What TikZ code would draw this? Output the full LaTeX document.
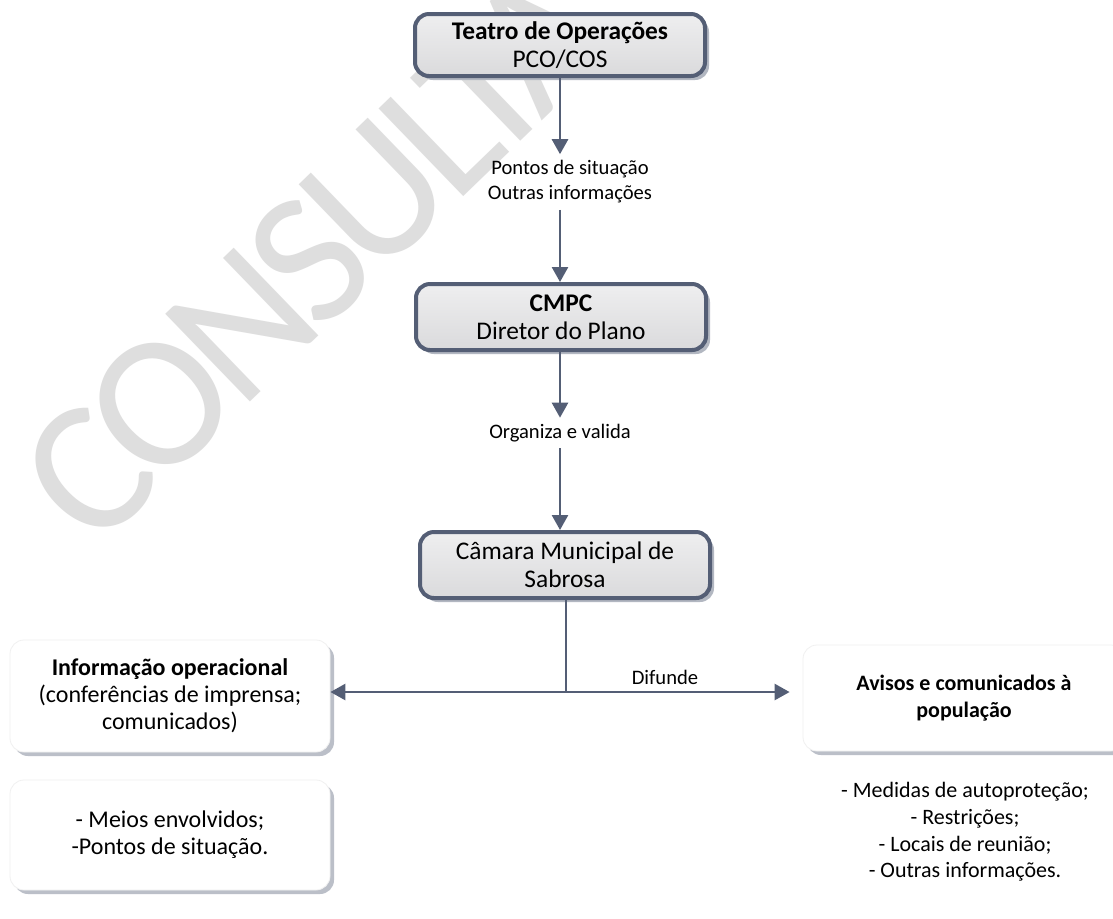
\documentclass[tikz,border=0pt]{standalone}
\usepackage{fontspec}
\setmainfont{Carlito}
\newfontfamily\wmfont[LetterSpace=-6]{Carlito}
\usepackage{tikz}
\usetikzlibrary{positioning,calc,shadows,arrows.meta}
\definecolor{slate}{RGB}{84,94,117}
\definecolor{boxgray}{RGB}{218,218,220}
\definecolor{wmark}{RGB}{222,222,222}
\tikzset{block/.style={draw=slate,line width=2pt,rounded corners=7pt,top color=boxgray!45,bottom color=boxgray,
           minimum width=145pt,minimum height=31pt,align=center,font=\fontsize{12.7}{14}\selectfont,
           drop shadow={shadow xshift=2pt,shadow yshift=-2pt,fill=slate!45,opacity=1}},
         note/.style={draw=gray!12,fill=white,rounded corners=7pt,minimum width=160pt,minimum height=55pt,align=center,
           font=\fontsize{12}{13.5}\selectfont,
           drop shadow={shadow xshift=2pt,shadow yshift=-2pt,fill=slate!40,opacity=1}},
         line/.style={draw=slate,line width=1.3pt,-{Triangle[width=8pt,length=7.5pt]}},
         lbl/.style={font=\fontsize{10.3}{12.5}\selectfont,align=center,inner sep=3pt}
}

\begin{document}
\begin{tikzpicture}[x=0.5pt,y=-0.5pt]
  \useasboundingbox[fill=white] (0,0) rectangle (1113,918);
  % watermark
  \node[rotate=44,text=wmark,font=\wmfont\fontsize{95}{95}\selectfont] (wm) at (315,255) {CONSULTA};

  \node[block] (teatro) at (560,45) {\textbf{Teatro de Operações}\\PCO/COS};
  \node[lbl] (sit) at (570,182) {Pontos de situação\\Outras informações};
  \node[block,minimum height=33pt] (cmpc) at (561,317) {\textbf{CMPC}\\Diretor do Plano};
  \node[lbl] (valida) at (560,433) {Organiza e valida};
  \node[block,minimum height=33pt] (camara) at (565,565) {Câmara Municipal de\\Sabrosa};

  \node[note,minimum height=56pt] (info) at (170,696) {\textbf{Informação operacional}\\(conferências de imprensa;\\comunicados)};
  \node[note] (meios) at (170,835) {- Meios envolvidos;\\-Pontos de situação.};
  \node[note,minimum width=161pt,minimum height=53pt,font=\fontsize{11}{13.3}\selectfont] (avisos) at (964,698) {\textbf{Avisos e comunicados à}\\\textbf{população}};
  \node[font=\fontsize{11}{13.3}\selectfont,align=center] (medidas) at (965,832) {- Medidas de autoproteção;\\- Restrições;\\- Locais de reunião;\\- Outras informações.};

  \draw[line] (teatro.south) -- (teatro.south |- sit.north);
  \draw[line] (teatro.south |- sit.south) -- (teatro.south |- cmpc.north);
  \draw[line] (teatro.south |- cmpc.south) -- (teatro.south |- valida.north);
  \draw[line] (teatro.south |- valida.south) -- (teatro.south |- camara.north);

  \coordinate (split) at (566,692);
  \draw[slate,line width=1.3pt] (camara.south -| split) -- (split);
  \draw[line] (split) -- (info.east |- split);
  \draw[line,shorten >=6.5pt] (split) -- (avisos.west |- split);
  \node[lbl] (difunde) at (665,677) {Difunde};
\end{tikzpicture}
\end{document}
